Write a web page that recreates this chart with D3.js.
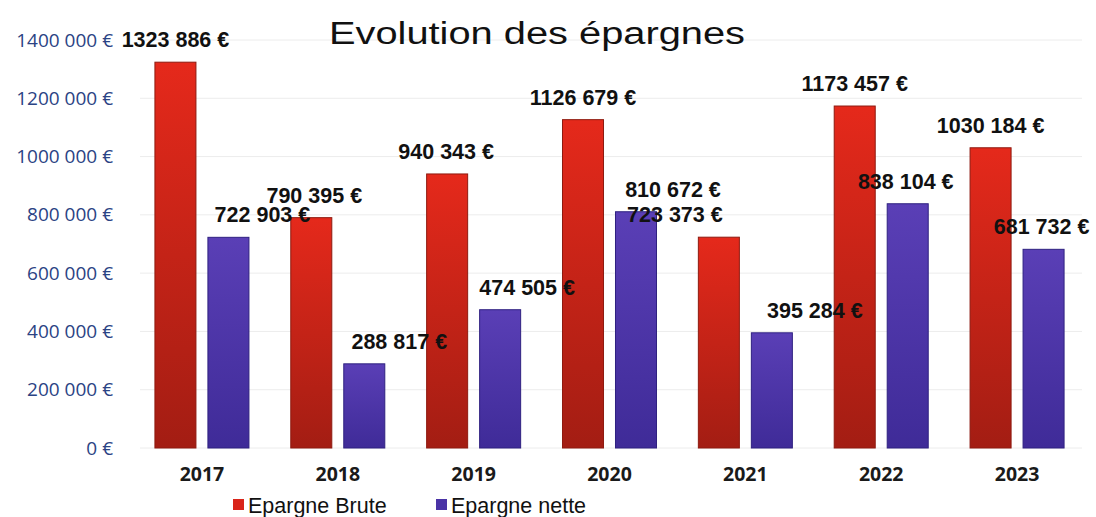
<!DOCTYPE html>
<meta charset="utf-8">
<style>
body { margin: 0; background: #fff; }
.grid line { stroke: #ececec; stroke-width: 1; }
.yaxis text { font-family: "Open Sans", sans-serif; font-size: 19px; fill: #2b4384; }
.xaxis text { font-family: "Open Sans", sans-serif; font-size: 19.5px; font-weight: 700; fill: #1a1a1a; }
.vlabel { font-family: "Liberation Sans", Arial, sans-serif; font-size: 21.5px; font-weight: bold; fill: #111; }
.legend text { font-family: "Liberation Sans", Arial, sans-serif; font-size: 21.5px; fill: #111; }
</style>
<svg width="1096" height="517"></svg>
<script src="https://cdn.jsdelivr.net/npm/d3@7"></script>
<script>

var years = ["2017", "2018", "2019", "2020", "2021", "2022", "2023"];
var brute = [1323886, 790395, 940343, 1126679, 723373, 1173457, 1030184];
var nette = [722903, 288817, 474505, 810672, 395284, 838104, 681732];
var seriesNames = ["Epargne Brute", "Epargne nette"];
var yTicks = [0, 200000, 400000, 600000, 800000, 1000000, 1200000, 1400000];
// label nudges, copied by eye (the labels were moved by hand in the original)
var bruteShift = [0, 3, -1, 0, -44, 0, 0];
var netteShift = [34, 35, 27, 37, 43, -2, -2];

var svg = d3.select("svg"),
    width = +svg.attr("width"),
    height = +svg.attr("height");

// "1323 886 €" style : only the last group gets a space
function euro(v) {
  if (v < 1000) return v + " €";
  var hi = Math.floor(v / 1000), lo = v % 1000;
  return hi + " " + String(lo).padStart(3, "0") + " €";
}

var y = d3.scaleLinear()
    .domain([0, 1400000])
    .range([448, 40]);

var x0 = d3.scaleBand()
    .domain(years)
    .range([134, 1085])
    .paddingInner(0.308)
    .paddingOuter(0.154);

var x1 = d3.scaleBand()
    .domain(seriesNames)
    .range([0, x0.bandwidth()])
    .paddingInner(0.226);

var defs = svg.append("defs");
function grad(id, top, bottom) {
  var g = defs.append("linearGradient").attr("id", id)
      .attr("x1", 0).attr("y1", 0).attr("x2", 0).attr("y2", 1);
  g.append("stop").attr("offset", "0%").attr("stop-color", top);
  g.append("stop").attr("offset", "100%").attr("stop-color", bottom);
}
grad("gRed", "#e5291b", "#a31d13");
grad("gBlue", "#5a3fb6", "#3f2b98");
var fills = { "Epargne Brute": "url(#gRed)", "Epargne nette": "url(#gBlue)" };
var edges = { "Epargne Brute": "#8e1a10", "Epargne nette": "#2f2180" };
var legendFill = { "Epargne Brute": "#d9241a", "Epargne nette": "#4a33a6" };

// gridlines
svg.append("g")
    .attr("class", "grid")
  .selectAll("line")
  .data(yTicks)
  .enter().append("line")
    .attr("x1", 140)
    .attr("x2", 1082)
    .attr("y1", function(d) { return y(d); })
    .attr("y2", function(d) { return y(d); });

// y axis
svg.append("g")
    .attr("class", "yaxis")
    .attr("transform", "translate(113,0)")
    .call(d3.axisLeft(y).tickValues(yTicks).tickSize(0).tickPadding(0).tickFormat(euro))
  .select(".domain").remove();

// x axis
svg.append("g")
    .attr("class", "xaxis")
    .attr("transform", "translate(0,467)")
    .call(d3.axisBottom(x0).tickSize(0).tickPadding(0))
  .select(".domain").remove();

var flat = [];
years.forEach(function(yr, i) {
  flat.push({ year: yr, s: seriesNames[0], v: brute[i], dx: bruteShift[i] });
  flat.push({ year: yr, s: seriesNames[1], v: nette[i], dx: netteShift[i] });
});

function cx(d) { return x0(d.year) + x1(d.s); }

svg.append("g")
  .selectAll("rect")
  .data(flat)
  .enter().append("rect")
    .attr("x", cx)
    .attr("y", function(d) { return y(d.v); })
    .attr("width", x1.bandwidth())
    .attr("height", function(d) { return y(0) - y(d.v); })
    .attr("fill", function(d) { return fills[d.s]; })
    .attr("stroke", function(d) { return edges[d.s]; })
    .attr("stroke-width", 1);

// labels go on top of every bar
svg.append("g")
  .selectAll("text")
  .data(flat)
  .enter().append("text")
    .attr("class", "vlabel")
    .attr("text-anchor", "middle")
    .attr("x", function(d) { return cx(d) + x1.bandwidth() / 2 + d.dx; })
    .attr("y", function(d) { return y(d.v) - 15; })
    .text(function(d) { return euro(d.v); });

// title
svg.append("text")
    .attr("x", 537)
    .attr("y", 44)
    .attr("text-anchor", "middle")
    .attr("font-family", "Liberation Sans, Arial, sans-serif")
    .attr("font-size", 31)
    .attr("textLength", 416)
    .attr("lengthAdjust", "spacingAndGlyphs")
    .attr("fill", "#111")
    .text("Evolution des épargnes");

// legend
var legend = svg.append("g").attr("class", "legend");
var lx = [233, 436];
seriesNames.forEach(function(name, i) {
  legend.append("rect")
      .attr("x", lx[i]).attr("y", 499)
      .attr("width", 11).attr("height", 11)
      .attr("fill", legendFill[name]);
  legend.append("text")
      .attr("x", lx[i] + 15).attr("y", 513)
      .text(name);
});

</script>
